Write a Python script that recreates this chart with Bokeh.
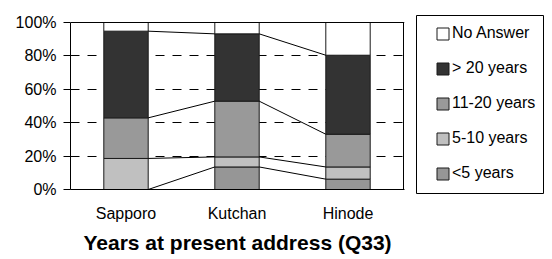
import numpy as np
from bokeh.plotting import figure
from bokeh.layouts import row
from bokeh.models import (Range1d, FixedTicker, PrintfTickFormatter, Legend, LegendItem,
                          ColumnDataSource, Span)
from bokeh.embed import file_html
from bokeh.resources import INLINE

# ---- data (percent of respondents) ----
towns = ["Sapporo", "Kutchan", "Hinode"]
series = ["<5 years", "5-10 years", "11-20 years", "> 20 years", "No Answer"]
lt5 = [0.0, 13.5, 6.2]
y5_10 = [18.6, 6.0, 7.3]
y11_20 = [24.3, 33.4, 19.6]
gt20 = [51.9, 40.3, 47.3]
no_answer = [5.2, 6.8, 19.6]
y_ticks = [0, 20, 40, 60, 80, 100]
grid_ticks = [20, 40, 60, 80]
colors = ["#969696", "#c0c0c0", "#999999", "#333333", "#ffffff"]
axis_title = "Years at present address (Q33)"

FONT = "Liberation Sans"
values = [lt5, y5_10, y11_20, gt20, no_answer]
xpos = np.arange(len(towns)) + 0.5
bar_w = 0.4

data = {"x": xpos}
for name, vals in zip(series, values):
    data[name] = vals
src = ColumnDataSource(data)

# plot area: 333 x 167 px for 3 categories x 0-100 %
PX_X = len(towns) / 333.0
PX_Y = 100.0 / 167.0
TOP_PAD = 7   # px of headroom above 100% (lets the legend box start higher)
RIGHT_PAD = 1

p = figure(output_backend="svg", toolbar_location=None,
           frame_width=333 + RIGHT_PAD, frame_height=167 + TOP_PAD,
           min_border_left=70, min_border_top=15, min_border_right=12,
           min_border_bottom=62,
           x_range=Range1d(0, len(towns) + RIGHT_PAD * PX_X),
           y_range=Range1d(0, y_ticks[-1] + TOP_PAD * PX_Y))
p.outline_line_color = None
p.background_fill_color = "white"
p.border_fill_color = "white"

p.xgrid.visible = False
p.ygrid.ticker = FixedTicker(ticks=grid_ticks)
p.ygrid.grid_line_color = "black"
p.ygrid.grid_line_dash = "9 8"
p.ygrid.grid_line_width = 1

# plot-area border: top at 100 %, right at the last category edge
p.add_layout(Span(location=y_ticks[-1], dimension="width", line_color="black", line_width=1))
p.segment(x0=[len(towns)], x1=[len(towns)], y0=[y_ticks[0]], y1=[y_ticks[-1]],
          line_color="black", line_width=1)

p.vbar_stack(series, x="x", width=bar_w, source=src, fill_color=colors,
             line_color="#1a1a1a", line_width=1)

# connecting lines between stacked boundaries
cum = np.cumsum(np.array(values), axis=0)
for level in cum[:-1]:
    p.segment(x0=xpos[:-1] + bar_w / 2, x1=xpos[1:] - bar_w / 2,
              y0=level[:-1], y1=level[1:], line_color="black", line_width=1)

# y axis
ya = p.yaxis[0]
ya.ticker = FixedTicker(ticks=y_ticks)
ya.bounds = (y_ticks[0], y_ticks[-1])
ya.formatter = PrintfTickFormatter(format="%d%%")
ya.minor_tick_line_color = None
ya.major_tick_in = 0
ya.major_tick_out = 7
ya.major_tick_line_color = "black"
ya.axis_line_color = "black"
ya.major_label_standoff = 7
ya.major_label_text_font = FONT
ya.major_label_text_font_size = "16px"
ya.major_label_text_color = "black"

# x axis
xa = p.xaxis[0]
xa.ticker = FixedTicker(ticks=list(xpos))
xa.major_label_overrides = {float(x): t for x, t in zip(xpos, towns)}
xa.major_tick_line_color = None
xa.minor_tick_line_color = None
xa.axis_line_color = "black"
xa.major_label_standoff = 9
xa.major_label_text_font = FONT
xa.major_label_text_font_size = "16px"
xa.major_label_text_color = "black"
xa.axis_label = axis_title
xa.axis_label_text_font = FONT
xa.axis_label_text_font_size = "21px"
xa.axis_label_text_font_style = "bold"
xa.axis_label_text_color = "black"
xa.axis_label_standoff = 6

# ---- legend panel ----
q = figure(output_backend="svg", toolbar_location=None,
           frame_width=127, frame_height=178,
           min_border_left=0, min_border_right=1, min_border_top=15,
           min_border_bottom=58,
           x_range=Range1d(0, 1), y_range=Range1d(0, 1),
           x_axis_type=None, y_axis_type=None)
q.outline_line_color = "black"
q.outline_line_width = 1
q.background_fill_color = "white"
q.border_fill_color = "white"

items = []
for name, c in reversed(list(zip(series, colors))):
    r = q.vbar(x=[np.nan], top=[np.nan], width=0.1, fill_color=c,
               line_color="#1a1a1a", line_width=1)
    items.append(LegendItem(label=name, renderers=[r]))

leg = Legend(items=items, location=(19, 11), padding=0, margin=0,
             border_line_alpha=0, background_fill_alpha=0,
             glyph_width=15, glyph_height=15, label_height=15,
             spacing=17, label_standoff=2,
             label_text_font=FONT, label_text_font_size="16px",
             label_text_color="black")
q.add_layout(leg, "center")

layout = row(p, q)
open("out.html", "w").write(file_html(layout, INLINE))
